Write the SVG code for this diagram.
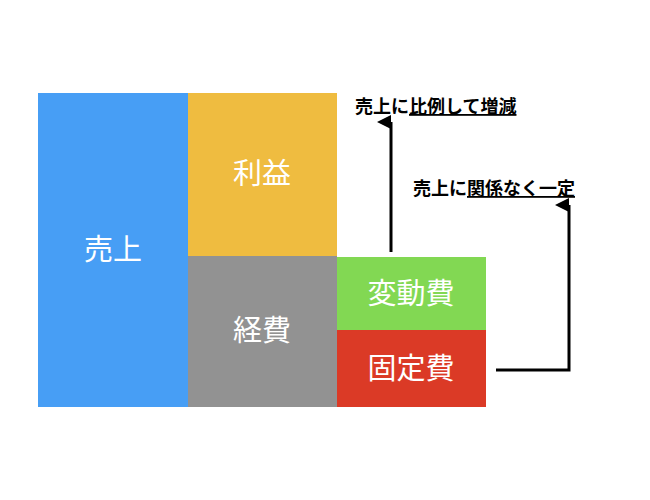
<svg xmlns="http://www.w3.org/2000/svg" width="650" height="500" viewBox="0 0 650 500">
<style>
.box{font-family:"Noto Sans CJK JP",sans-serif;font-size:29px;fill:#fff;text-anchor:middle}
.lbl{font-family:"Noto Sans CJK JP",sans-serif;font-size:18px;font-weight:bold;fill:#000}
.u{text-decoration:underline}
.c{fill:none;stroke:#000;stroke-width:3}
</style>
<defs><marker id="a" viewBox="0 0 10 10" refX="5" refY="10" markerWidth="14" markerHeight="14" markerUnits="userSpaceOnUse" orient="auto-start-reverse"><path d="M0,10 L5,0 L10,10 Z" fill="#000"/></marker></defs>
<rect width="650" height="500" fill="#fff"/>
<g id="uriage"><rect x="38" y="93" width="150" height="314" fill="#479ef5"/><text class="box" x="113" y="260">売上</text></g>
<g id="rieki"><rect x="188" y="93" width="149" height="163" fill="#efbc40"/><text class="box" x="262" y="184">利益</text></g>
<g id="keihi"><rect x="188" y="256" width="149" height="151" fill="#929292"/><text class="box" x="262" y="341">経費</text></g>
<g id="hendo"><rect x="337" y="257" width="149" height="74" fill="#82d853"/><text class="box" x="411" y="304">変動費</text></g>
<g id="kotei"><rect x="337" y="330" width="149" height="77" fill="#db3a26"/><text class="box" x="411" y="379">固定費</text></g>
<g id="connectors">
<path class="c" d="M391,252 V122" marker-end="url(#a)"/>
<path class="c" d="M496,370 H569 V205" marker-end="url(#a)"/>
</g>
<g id="label1"><text class="lbl" x="355" y="113">売上に<tspan class="u">比例して増減</tspan></text></g>
<g id="label2"><text class="lbl" x="413" y="195">売上に<tspan class="u">関係なく一定</tspan></text></g>
</svg>
